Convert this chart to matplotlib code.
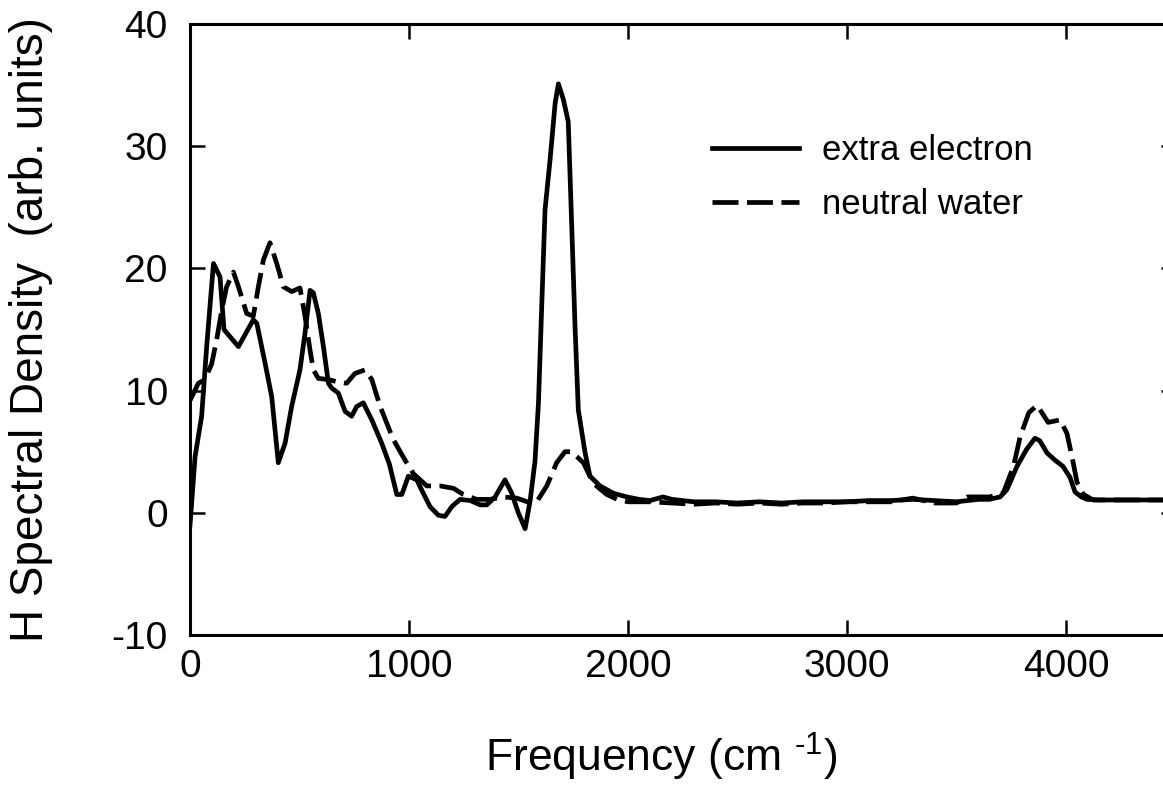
import numpy as np
import matplotlib
matplotlib.use("Agg")
import matplotlib.pyplot as plt

plt.rcParams['font.family'] = ['Liberation Sans', 'DejaVu Sans']
plt.rcParams['mathtext.fontset'] = 'custom'
plt.rcParams['mathtext.rm'] = 'Liberation Sans'
plt.rcParams['axes.unicode_minus'] = False

# extra electron (solid)
freq_e = [0, 23, 53, 76, 107, 137, 155, 183, 221, 289, 305, 342, 373, 403, 434,
          464, 502, 525, 548, 563, 586, 609, 632, 647, 677, 708, 738, 761, 791,
          830, 875, 910, 944, 967, 997, 1035, 1065, 1096, 1134, 1164, 1195, 1233,
          1280, 1324, 1355, 1393, 1438, 1469, 1499, 1530, 1553, 1575, 1591, 1606,
          1621, 1644, 1667, 1682, 1705, 1727, 1743, 1758, 1773, 1804, 1826, 1872,
          1933, 1994, 2050, 2100, 2160, 2200, 2300, 2400, 2500, 2600, 2700, 2800,
          2900, 3000, 3100, 3200, 3300, 3400, 3500, 3600, 3650, 3699, 3730, 3776,
          3820, 3858, 3880, 3913, 3950, 3986, 4018, 4041, 4070, 4096, 4150, 4500]
dens_e = [-1.0, 4.6, 7.9, 13.6, 20.4, 19.3, 15.0, 14.4, 13.6, 15.8, 15.5, 12.3,
          9.5, 4.1, 5.7, 8.7, 11.7, 14.7, 18.2, 18.0, 16.3, 13.6, 10.6, 10.2, 9.8,
          8.3, 7.9, 8.7, 9.0, 7.6, 5.7, 4.0, 1.5, 1.5, 3.0, 2.7, 1.6, 0.5, -0.2,
          -0.3, 0.5, 1.1, 1.0, 0.65, 0.65, 1.3, 2.7, 1.6, 0.0, -1.3, 1.0, 4.2, 9.0,
          17.0, 24.8, 28.9, 33.5, 35.1, 33.8, 32.0, 23.4, 15.2, 8.4, 4.9, 3.0, 2.2,
          1.6, 1.3, 1.1, 1.0, 1.3, 1.1, 0.9, 0.9, 0.8, 0.9, 0.8, 0.9, 0.9, 0.9,
          1.0, 1.0, 1.1, 1.0, 0.9, 1.1, 1.1, 1.3, 1.9, 3.8, 5.2, 6.1, 5.9, 4.9,
          4.3, 3.8, 2.9, 1.7, 1.3, 1.1, 1.05, 1.05]

# neutral water (dashed)
freq_n = [0, 38, 68, 99, 122, 145, 167, 198, 221, 259, 289, 312, 335, 365, 396,
          426, 464, 502, 525, 548, 563, 586, 632, 677, 715, 753, 799, 830, 868,
          928, 982, 1020, 1081, 1142, 1203, 1248, 1309, 1370, 1430, 1492, 1540,
          1583, 1629, 1674, 1712, 1740, 1766, 1796, 1842, 1903, 1950, 2000, 2100,
          2200, 2300, 2400, 2500, 2600, 2700, 2800, 2900, 3000, 3100, 3200, 3300,
          3400, 3500, 3550, 3650, 3713, 3760, 3790, 3830, 3868, 3918, 3973, 4004,
          4027, 4050, 4080, 4123, 4500]
dens_n = [9.2, 10.6, 10.9, 12.2, 14.2, 16.6, 18.5, 19.7, 18.5, 16.3, 16.1, 18.5,
          20.7, 22.1, 20.4, 18.5, 18.1, 18.4, 16.1, 13.3, 11.7, 11.0, 10.9, 10.7,
          10.6, 11.4, 11.7, 10.9, 8.7, 6.0, 4.3, 3.2, 2.2, 2.2, 2.0, 1.5, 1.1,
          1.1, 1.3, 1.2, 0.9, 0.9, 2.2, 4.1, 5.0, 5.0, 4.6, 4.1, 2.4, 1.5, 1.1,
          0.9, 0.9, 0.8, 0.7, 0.8, 0.7, 0.8, 0.7, 0.8, 0.8, 0.9, 0.9, 0.9, 1.2,
          0.8, 0.8, 1.3, 1.3, 1.6, 3.8, 6.2, 8.2, 8.8, 7.4, 7.6, 6.5, 4.6, 2.5,
          1.5, 1.05, 1.05]

fig = plt.figure(figsize=(11.63, 7.86), dpi=100)
ax = fig.add_axes([0.1634, 0.1921, 0.8474, 0.7774])

ax.plot(freq_e, dens_e, color='black', lw=3.4, solid_joinstyle='round',
        label='extra electron')
ax.plot(freq_n, dens_n, color='black', lw=3.4, dashes=(5.5, 1.8),
        label='neutral water')

ax.set_xlim(0, 4500)
ax.set_ylim(-10, 40)
ax.set_xticks([0, 1000, 2000, 3000, 4000])
ax.set_yticks([-10, 0, 10, 20, 30, 40])
ax.tick_params(direction='in', length=11, width=1.8, top=True, right=True,
               labelsize=28)
ax.tick_params(axis='x', pad=10)
ax.tick_params(axis='y', pad=16)
for s in ax.spines.values():
    s.set_linewidth(2.2)

ax.set_xlabel('Frequency (cm $^{\\text{-1}}$)', fontsize=32)
ax.xaxis.set_label_coords(0.478, -0.157)
ax.set_ylabel('H Spectral Density  (arb. units)', fontsize=33)
ax.yaxis.set_label_coords(-0.139, 0.5)

ax.legend(loc='upper left', bbox_to_anchor=(0.53, 0.82), frameon=False,
          fontsize=25, handlelength=2.5, handletextpad=0.65, labelspacing=0.62,
          borderpad=0, borderaxespad=0)

fig.savefig('out.png', dpi=100)
